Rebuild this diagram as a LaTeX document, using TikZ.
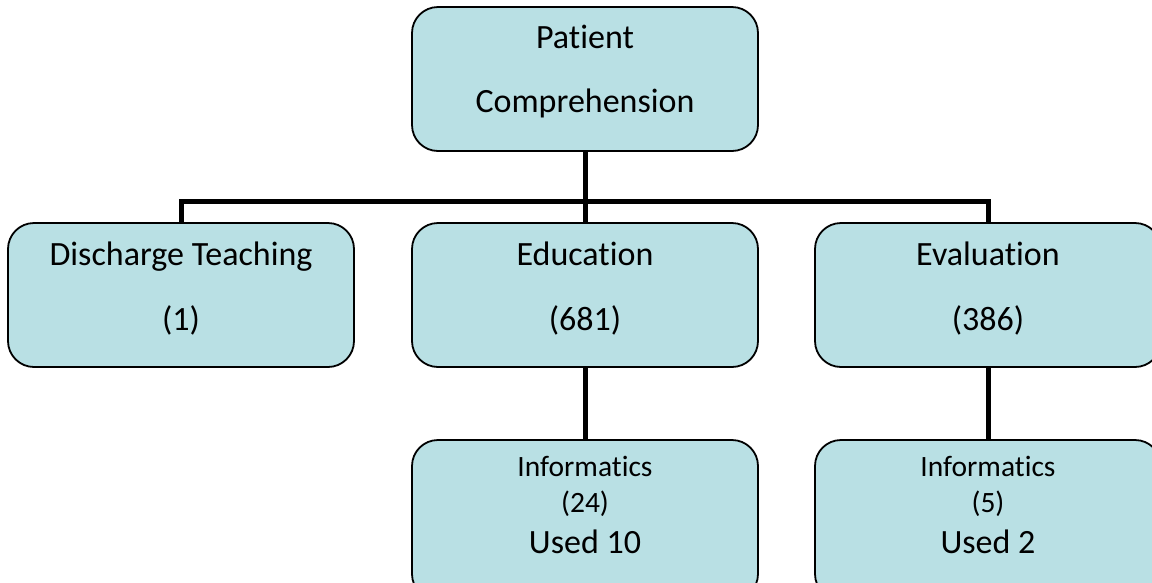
\documentclass[tikz,border=0pt]{standalone}
\usepackage{fontspec}
\setmainfont[Ligatures=NoCommon]{Carlito}
\definecolor{boxfill}{HTML}{B9E0E4}
\begin{document}
\begin{tikzpicture}[x=1pt,y=-1pt,
  box/.style={draw=black, line width=1.8pt, fill=boxfill, rounded corners=26pt,
              minimum width=346pt, inner sep=0pt},
  conn/.style={draw=black, line width=5pt},
  big/.style={font=\fontsize{34}{40}\selectfont, inner sep=0pt, anchor=base},
  small/.style={font=\fontsize{29.5}{32}\selectfont, inner sep=0pt, anchor=base}]
\useasboundingbox (0,0) rectangle (1152,582);
\clip (0,0) rectangle (1152,582);
% boxes
\node[box, minimum height=144pt] (top) at (585,79) {};
\node[box, minimum height=144pt] (dis) at (181,295) {};
\node[box, minimum height=144pt] (edu) at (585,295) {};
\node[box, minimum height=144pt] (eva) at (988,295) {};
\node[box, minimum height=160pt] (inf1) at (585,520) {};
\node[box, minimum height=160pt] (inf2) at (988,520) {};
% connectors
\coordinate (bus) at (585,201);
\draw[conn] (top.south) -- (bus);
\draw[conn] (bus) -| (dis.north);
\draw[conn] (bus) -| (eva.north);
\draw[conn] (bus) -- (edu.north);
\draw[conn] (edu.south) -- (inf1.north);
\draw[conn] (eva.south) -- (inf2.north);
% texts
\node[big] (t1) at (585,48) {Patient};
\node[big] (t2) at (585,112) {Comprehension};
\node[big] (d1) at (181,265) {Discharge Teaching};
\node[big] (d2) at (181,330) {(1)};
\node[big] (e1) at (585,265) {Education};
\node[big] (e2) at (585,330) {(681)};
\node[big] (v1) at (988,265) {Evaluation};
\node[big] (v2) at (988,330) {(386)};
\node[small] (i1) at (585,476) {Informatics};
\node[small] (i2) at (585,512) {(24)};
\node[big] (i3) at (585,553) {Used 10};
\node[small] (j1) at (988,476) {Informatics};
\node[small] (j2) at (988,512) {(5)};
\node[big] (j3) at (988,553) {Used 2};
\end{tikzpicture}
\end{document}
